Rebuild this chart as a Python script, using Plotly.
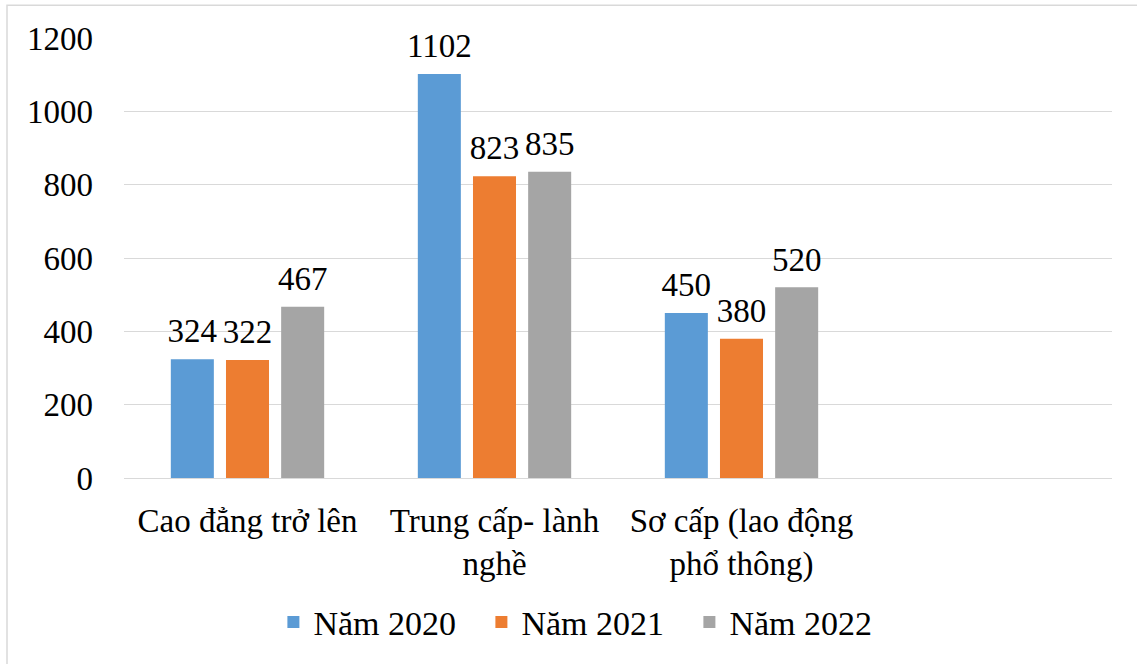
import plotly.graph_objects as go

categories = ["Cao đẳng trở lên", "Trung cấp- lành<br>nghề", "Sơ cấp (lao động<br>phổ thông)"]
series_names = ["Năm 2020", "Năm 2021", "Năm 2022"]
values_2020 = [324, 1102, 450]
values_2021 = [322, 823, 380]
values_2022 = [467, 835, 520]
y_ticks = [0, 200, 400, 600, 800, 1000, 1200]

colors = ["#5B9BD5", "#ED7D31", "#A5A5A5"]
FONT = "Liberation Serif"

fig = go.Figure()
for i, (name, vals, col) in enumerate(zip(series_names, [values_2020, values_2021, values_2022], colors)):
    fig.add_trace(go.Bar(
        x=categories, y=vals, name=name, offsetgroup=str(i),
        marker=dict(color=col, line=dict(width=0)),
    ))
for i, vals in enumerate([values_2020, values_2021, values_2022]):
    fig.add_trace(go.Scatter(
        x=categories, y=vals, offsetgroup=str(i), mode="markers+text",
        marker=dict(size=12, opacity=0), showlegend=False, hoverinfo="skip",
        text=[str(v) for v in vals], textposition="top center",
        textfont=dict(family=FONT, size=33, color="black"),
        cliponaxis=False,
    ))

W, H = 1137, 664
ml, mr, mt, mb = 124, 25, 38, 184
pw, ph = W - ml - mr, H - mt - mb

def px2x(p):
    return (p - ml) / pw

def py2y(p):
    return (H - mb - p) / ph

fig.update_layout(
    width=W, height=H,
    margin=dict(l=ml, r=mr, t=mt, b=mb),
    paper_bgcolor="white", plot_bgcolor="white",
    barmode="group", bargap=0.33, bargroupgap=0.22,
    scattermode="group", scattergap=0.33,
    font=dict(family=FONT, size=33, color="black"),
    showlegend=True,
    legend=dict(orientation="h", x=0.467, xanchor="center", y=py2y(625), yanchor="middle",
                font=dict(family=FONT, size=34, color="black"), itemwidth=30,
                entrywidth=163, entrywidthmode="pixels",
                traceorder="normal"),
    xaxis=dict(range=[-0.5, 3.5], showgrid=False, showline=False, zeroline=False,
               ticks="", tickfont=dict(family=FONT, size=33, color="black"),
               ticklabelstandoff=20),
    yaxis=dict(range=[0, 1200], tickvals=y_ticks, showgrid=True, gridcolor="#D9D9D9",
               gridwidth=1.3, zeroline=True, zerolinecolor="#D9D9D9", zerolinewidth=1.3,
               showline=False, ticks="", tickfont=dict(family=FONT, size=33, color="black"),
               ticklabelstandoff=30),
    shapes=[dict(type="rect", xref="paper", yref="paper",
                 x0=px2x(7), x1=px2x(1145), y0=py2y(5), y1=py2y(680),
                 line=dict(color="#D9D9D9", width=1.5), fillcolor="rgba(0,0,0,0)", layer="below")],
)

fig.write_html("out.html")
